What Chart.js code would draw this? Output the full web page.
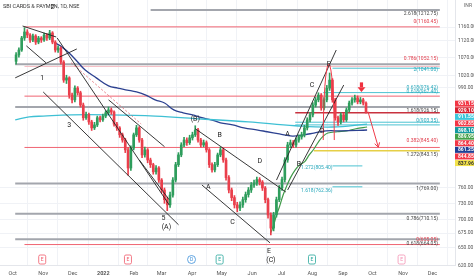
<!DOCTYPE html>
<html><head><meta charset="utf-8">
<script src="https://cdn.jsdelivr.net/npm/chart.js@4.4.0/dist/chart.umd.min.js"></script>
<style>html,body{margin:0;padding:0;background:#fff;overflow:hidden}canvas{display:block}</style>
</head><body>
<canvas id="c" width="474" height="279"></canvas>
<script>
// x unit: calendar days since 2021-10-01
const monthTicks = [0,31,61,92,123,151,182,212,243,273,304,335,365,396,426];
const monthLabels = ['Oct','Nov','Dec','2022','Feb','Mar','Apr','May','Jun','Jul','Aug','Sep','Oct','Nov','Dec'];
const priceTicks = [1160,1120,1070,1020,990,760,730,700,675,650,620];

const opens = [1060,1078,1092,1127,1145,1136,1121,1133,1115,1127, 1121,1136,1127,1142,1115,1092,1098,1058,1009,1015, 970,958,988,976,945,914,921,904,890,897, 914,909,918,926,933,928,899,890,874,862, 840,801,844,874,890,862,829,840,818,808, 793,801,776,756,737,727,746,776,808,829, 851,862,856,867,874,885,862,851,856,840, 808,797,808,829,840,818,781,756,741,727, 721,727,737,747,756,766,770,777,772,760, 737,708,684,708,737,760,777,818,851,856, 851,862,869,874,890,909,921,945,958,970, 938,958,988,1009,958,914,904,921,909,933, 950,958,963,953,958,950];
const closes = [1078,1092,1127,1145,1136,1121,1133,1115,1127,1121, 1136,1127,1142,1115,1092,1098,1058,1009,1015,970, 958,988,976,945,914,921,904,890,897,914, 909,918,926,933,928,899,890,874,862,840, 801,844,874,890,862,829,840,818,808,793, 801,776,756,737,727,746,776,808,829,851, 862,856,867,874,885,862,851,856,840,808, 797,808,829,840,818,781,756,741,727,721, 727,737,747,756,766,770,777,772,760,737, 708,684,708,737,760,777,818,851,856,851, 862,869,874,890,909,921,945,958,970,938, 958,988,1009,958,914,904,921,909,933,950, 958,963,953,958,950,929];
const highs = [1085,1098,1132,1158,1152,1140,1139,1137,1132,1131, 1142,1140,1150,1146,1119,1104,1101,1062,1022,1018, 975,994,992,980,950,928,925,908,903,918, 918,923,931,940,938,931,903,893,878,866, 845,849,878,896,893,866,846,843,822,811, 806,804,779,760,742,752,781,813,834,856, 868,867,873,880,895,889,866,862,860,843, 812,813,833,846,844,822,785,760,745,732, 733,742,752,761,771,776,782,781,775,763, 740,712,713,742,765,782,823,857,862,861, 867,874,880,896,914,927,951,964,976,974, 964,995,1028,1013,962,918,926,925,938,955, 964,970,968,964,962,953];
const lows = [1052,1072,1088,1120,1128,1114,1116,1108,1110,1114, 1117,1120,1122,1110,1086,1085,1052,1003,1000,962, 950,953,970,940,908,910,898,884,886,893, 904,905,914,922,922,894,884,868,857,834, 786,796,840,870,857,823,824,812,802,788, 788,771,750,730,716,722,742,772,804,825, 847,850,852,862,870,857,846,847,835,802, 792,793,804,825,813,776,750,735,721,714, 716,722,732,742,751,761,765,766,755,731, 702,672,679,704,733,755,772,813,845,845, 846,857,864,869,885,904,916,940,953,932, 933,953,982,952,908,896,899,904,905,928, 945,952,948,948,945,925];
const candleDays = opens.map((_, i) => 3.5 + 2.84 * i);

const blueDays = [43.3,49.9,59.4,66.0,73.6,84.9,97.3,106.7,116.2,125.7,135.1,144.6,154.1,163.5,173.0,182.5,192.0,201.4,210.9,223.2,234.6,248.8,258.2,270.6,283.8,296.1,305.6,317.9,334.0,359.6];
const bluePrices = [1112,1101,1078,1058,1036,1015,994,988,983,978,970,958,950,933,926,921,914,909,902,897,890,885,881,876,871,874,878,883,883,885];
const cyanDays = [2.6,16.8,31.0,59.4,97.3,144.6,192.0,239.3,286.7,324.5,359.6];
const cyanPrices = [909,916,918,921,921,918,911,904,895,892,899];
const greenDays = [262.0,264.9,267.7,270.6,274.4,277.2,281.9,286.7,291.4,296.1,300.9,305.6,310.3,315.1,319.8,329.3,338.7,348.2,359.6];
const greenPrices = [676,690,708,723,746,760,781,797,808,814,829,842,858,871,878,881,883,888,892];

const levelPrices = [1212.75,1160.45,1052.15,1046,1041,976.42,967.40,940,926.15,903.35,897,845.40,837.96,805.40,769.00,762.36,710.15,664.05,655.05];
const levelFrom = [140,12,2.6,12,324.5,315,12,2.6,286.7,286.7,286.7,12,305.6,324.5,2.6,324.5,2.6,2.6,12];
const levelTo = [433.4,433.4,433.4,433.4,433.4,433.4,433.4,433.4,433.4,433.4,433.4,433.4,433.4,354.8,433.4,354.8,433.4,433.4,433.4];
const levelKinds = ['gray','red','gray','pink','teal','teal','red','gray','darkred','teal','teal','red','yellow','teal','gray','teal','gray','gray','red'];

const trendFromDay = [10.1,13.9,2.6,45.2,31.0,185.3,192.0,97.3,128.5,267.7,279.0];
const trendFromPrice = [1163,1104,1015,1127,978,888,766,958,818,776,756];
const trendToDay = [44.2,33.8,65.1,158.8,168.3,277.2,261.1,154.1,158.8,328.3,335.9];
const trendToPrice = [1130,1056,1095,727,690,752,658,847,737,1092,996];
const dashFromDay = [59.4], dashFromPrice = [1056], dashToDay = [130.4], dashToPrice = [899];

const noteTexts = ['2.618(1212.75)','0(1160.45)','0.786(1052.15)','2(1041.00)','0.618(976.42)','0.618(967.40)','1.618(926.15)','0(903.35)','0.382(845.40)','1.272(843.15)','1(769.00)','0.786(710.15)','0(655.05)','0.618(664.05)','1.272(805.40)','1.618(762.36)'];
const noteDays = [431.5,431.5,431.5,431.5,431.5,431.5,431.5,431.5,431.5,431.5,431.5,431.5,431.5,431.5,324.5,324.5];
const notePrices = [1200,1175,1066,1036,988,978,931,906,860,829,758,701,663,656,801,754];
const noteKinds = ['dark','red','red','teal','teal','teal','dark','teal','red','dark','dark','dark','red','dark','teal','teal'];

const waveTexts = ['2','1','3','5','(A)','A','(B)','B','C','D','E','(C)','A','B','C','D','E'];
const waveDays = [40.4,30.0,57.5,153.1,156.0,198.6,185.3,210.0,223.2,250.7,260.1,262.0,279.0,290.5,303.7,314.1,320.7];
const wavePrices = [1223,1015,897,701,686,762,911,874,694,816,643,628,876,808,996,883,1052];

const arcCenterDay = 320.7, arcLeftDay = 315.1, arcTopPrice = 1052, arcBasePrice = 862;
const arrowDay = 353.9, arrowTopPrice = 1003, arrowBottomPrice = 978;
const projFromDay = 360.5, projFromPrice = 929, projToDay = 371.0, projToPrice = 846;

const eventDays = [30,117,181.5,210,303.7,394.6];
const eventKinds = ['E','E','D','E2','E2','P'];

const tagValues = [931.15,929.10,911.55,902.85,898.10,889.95,864.40,861.25,844.85,837.96];
const tagKinds = ['red','dred','cyan','red','teal','green','red','navy','red','yellow'];

// ---------- styles ----------
const LV = {gray:['#a3a6ad',2],red:['#f06472',1],pink:['#f7b9c0',1],teal:['#4cc3d1',1],darkred:['#c8323f',1.5],yellow:['#e6cf47',1.5]};
const NOTE = {dark:'#444',red:'#e2404f',teal:'#27a8bb'};
const TAG = {red:'#f23645',dred:'#d81f2e',cyan:'#3cc8dc',teal:'#159aa0',green:'#43a047',navy:'#1f3f95',yellow:'#f2e24a'};
const UP = '#2e9d5c', DN = '#ea3f4c';
const FONT = 'Roboto, "Liberation Sans", sans-serif';

const cColors = closes.map((c, i) => c >= opens[i] ? UP : DN);
const datasets = [];
levelPrices.forEach((p, i) => {
  const s = LV[levelKinds[i]];
  datasets.push({type:'line', data:[{x:levelFrom[i],y:p},{x:levelTo[i],y:p}], borderColor:s[0], borderWidth:s[1], pointRadius:0, order:5});
});
const mk = (ds, ps) => ds.map((d, i) => ({x:d, y:ps[i]}));
datasets.push({type:'line', data:mk(cyanDays,cyanPrices), borderColor:'#3fc0d4', borderWidth:1.3, pointRadius:0, tension:0.4, order:4});
datasets.push({type:'line', data:mk(blueDays,bluePrices), borderColor:'#2c4190', borderWidth:1.3, pointRadius:0, tension:0.4, order:4});
datasets.push({type:'line', data:mk(greenDays,greenPrices), borderColor:'#3f9a48', borderWidth:1.2, pointRadius:0, tension:0.4, order:4});
datasets.push({type:'bar', data:candleDays.map((d,i)=>({x:d,y:[lows[i],highs[i]]})), backgroundColor:cColors, barThickness:1, grouped:false, order:3});
datasets.push({type:'bar', data:candleDays.map((d,i)=>({x:d,y:[opens[i],closes[i]]})), backgroundColor:cColors, barThickness:2, minBarLength:1, grouped:false, order:2});
trendFromDay.forEach((d, i) => {
  datasets.push({type:'line', data:[{x:d,y:trendFromPrice[i]},{x:trendToDay[i],y:trendToPrice[i]}], borderColor:'#222', borderWidth:0.9, pointRadius:0, order:1});
});
dashFromDay.forEach((d, i) => {
  datasets.push({type:'line', data:[{x:d,y:dashFromPrice[i]},{x:dashToDay[i],y:dashToPrice[i]}], borderColor:'#e05a66', borderWidth:0.8, borderDash:[2,2], pointRadius:0, order:1});
});

const overlay = {
  id:'overlay',
  afterDatasetsDraw(chart){
    const ctx = chart.ctx, xs = chart.scales.x, ys = chart.scales.y, a = chart.chartArea;
    const X = d => xs.getPixelForValue(d), Y = p => ys.getPixelForValue(p);
    ctx.save();
    ctx.beginPath(); ctx.rect(a.left, a.top, a.right - a.left, a.bottom - a.top); ctx.clip();
    const cx = X(arcCenterDay), rx = cx - X(arcLeftDay), by = Y(arcBasePrice), ry = by - Y(arcTopPrice);
    ctx.beginPath(); ctx.ellipse(cx, by, rx, ry, 0, Math.PI, 2*Math.PI);
    ctx.strokeStyle = '#ef3a48'; ctx.lineWidth = 1; ctx.stroke();
    const ax = X(arrowDay), at = Y(arrowTopPrice), ab = Y(arrowBottomPrice), mid = at + (ab - at) * 0.5;
    ctx.fillStyle = '#f0303e';
    ctx.fillRect(ax - 1.6, at, 3.2, mid - at);
    ctx.beginPath(); ctx.moveTo(ax - 4, mid); ctx.lineTo(ax + 4, mid); ctx.lineTo(ax, ab); ctx.closePath(); ctx.fill();
    const px0 = X(projFromDay), py0 = Y(projFromPrice), px1 = X(projToDay), py1 = Y(projToPrice);
    ctx.strokeStyle = '#ef3a48'; ctx.lineWidth = 1;
    ctx.beginPath(); ctx.moveTo(px0, py0); ctx.lineTo(px1, py1); ctx.stroke();
    const ang = Math.atan2(py1 - py0, px1 - px0);
    ctx.beginPath();
    ctx.moveTo(px1 + 5*Math.cos(ang + 2.6), py1 + 5*Math.sin(ang + 2.6)); ctx.lineTo(px1, py1);
    ctx.lineTo(px1 + 5*Math.cos(ang - 2.6), py1 + 5*Math.sin(ang - 2.6)); ctx.stroke();
    ctx.font = '5px ' + FONT; ctx.textAlign = 'right'; ctx.textBaseline = 'middle';
    noteTexts.forEach((t, i) => { ctx.fillStyle = NOTE[noteKinds[i]]; ctx.fillText(t, X(noteDays[i]), Y(notePrices[i])); });
    ctx.font = '7px ' + FONT; ctx.textAlign = 'center'; ctx.fillStyle = '#222';
    waveTexts.forEach((t, i) => ctx.fillText(t, X(waveDays[i]), Y(wavePrices[i])));
    eventDays.forEach((d, i) => {
      const k = eventKinds[i], ex = X(d), ey = a.bottom - 5.5;
      const col = k === 'E' ? '#f0596a' : k === 'D' ? '#3b8fd9' : k === 'E2' ? '#26a69a' : '#f48fb1';
      ctx.fillStyle = '#fff'; ctx.strokeStyle = col; ctx.lineWidth = 0.8;
      ctx.beginPath();
      if (k === 'D') ctx.arc(ex, ey, 4, 0, 2*Math.PI); else ctx.roundRect(ex - 3.5, ey - 4.5, 7, 9, 1.5);
      ctx.fill(); ctx.stroke();
      ctx.fillStyle = col; ctx.font = '5px ' + FONT; ctx.textAlign = 'center';
      ctx.fillText(k === 'D' ? 'D' : 'E', ex, ey + 0.3);
    });
    ctx.restore();
  },
  afterDraw(chart){
    const ctx = chart.ctx, ys = chart.scales.y, a = chart.chartArea;
    ctx.save();
    ctx.font = '5.5px ' + FONT; ctx.fillStyle = '#333'; ctx.textAlign = 'left'; ctx.textBaseline = 'middle';
    ctx.fillText('SBI CARDS & PAYMEN, 1D, NSE', 3, 7);
    ctx.font = '5px ' + FONT; ctx.fillStyle = '#666';
    ctx.fillText('INR', a.right + 9, 6);
    const h = 6.6;
    const ty = tagValues.map(v => ys.getPixelForValue(v));
    const mean = ty.reduce((s, v) => s + v, 0) / ty.length + 4;
    const start = mean - (ty.length - 1) / 2 * h;
    tagValues.forEach((v, i) => {
      const y = start + i * h;
      ctx.fillStyle = TAG[tagKinds[i]];
      ctx.fillRect(a.right, y - h/2 + 0.3, 474 - a.right, h - 0.6);
      ctx.fillStyle = tagKinds[i] === 'yellow' ? '#333' : '#fff';
      ctx.font = 'bold 5px ' + FONT;
      ctx.fillText(v.toFixed(2), a.right + 3, y + 0.3);
    });
    ctx.restore();
  }
};

new Chart(document.getElementById('c'), {
  type:'bar',
  data:{datasets},
  options:{
    responsive:false, animation:false, devicePixelRatio:1, events:[],
    layout:{padding:0},
    plugins:{legend:{display:false}, tooltip:{enabled:false}, title:{display:false}},
    scales:{
      x:{type:'linear', min:2.56, max:433.4,
        grid:{color:'#f0f2f6', drawTicks:false}, border:{display:true, color:'#e4e6eb'},
        afterBuildTicks: s => { s.ticks = monthTicks.map(v => ({value:v})); },
        afterFit: s => { s.height = 14; s.paddingLeft = 0; s.paddingRight = 0; },
        ticks:{autoSkip:false, maxRotation:0, padding:5, color:'#555',
          font: c => ({family:FONT, size:5.5, weight: (c.tick && c.tick.value === 92) ? 'bold' : 'normal'}),
          callback: v => monthLabels[monthTicks.indexOf(v)] || ''}
      },
      y:{type:'logarithmic', position:'right', min:620.8, max:1245.3, bounds:'data',
        grid:{color:'#f0f2f6', drawTicks:false}, border:{display:true, color:'#e4e6eb'},
        afterBuildTicks: s => { s.ticks = priceTicks.map(v => ({value:v})); },
        afterFit: s => { s.width = 19; s.paddingTop = 0; s.paddingBottom = 0; },
        ticks:{autoSkip:false, padding:3, color:'#555', font:{family:FONT, size:5},
          callback: v => Number(v).toFixed(2)}
      }
    }
  },
  plugins:[overlay]
});
</script>
</body></html>
